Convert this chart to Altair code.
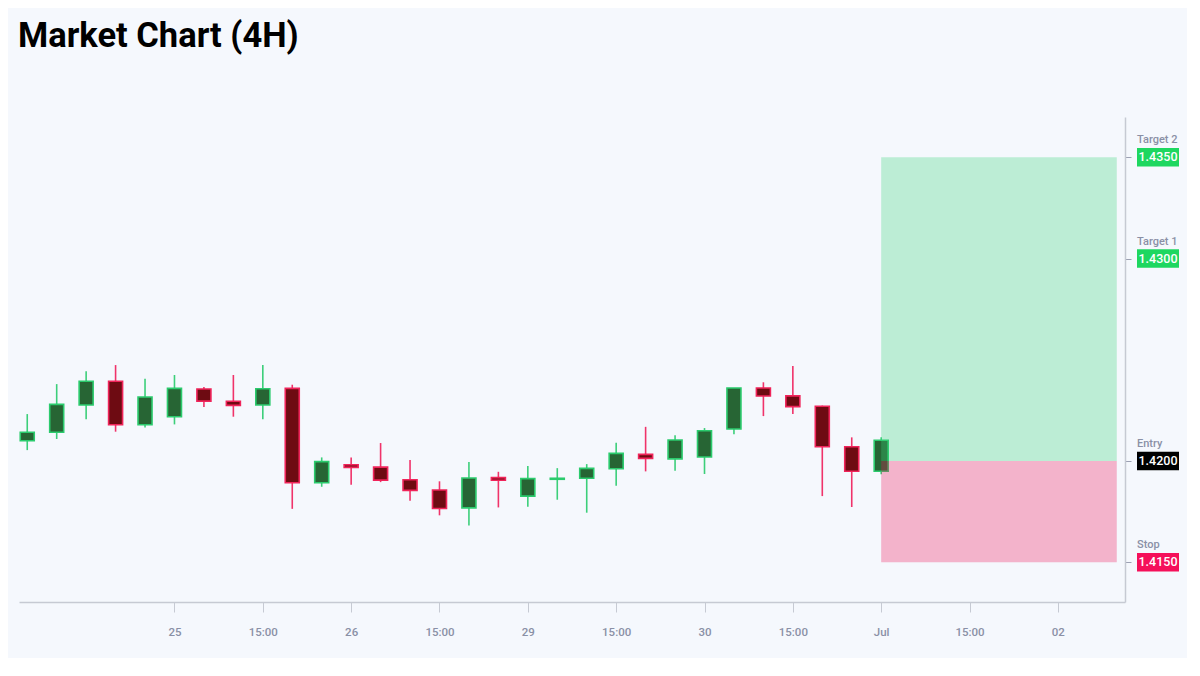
import altair as alt
import pandas as pd

# ---- data ----
opens  = [1.42100, 1.42142, 1.42277, 1.42394, 1.42179, 1.42219, 1.42356, 1.42295, 1.42277, 1.42359,
          1.41893, 1.41982, 1.41970, 1.41908, 1.41857, 1.41769, 1.41918, 1.41827, 1.41910, 1.41915,
          1.41962, 1.42033, 1.42011, 1.42020, 1.42158, 1.42361, 1.42322, 1.42271, 1.42071, 1.41950]
highs  = [1.42232, 1.42380, 1.42443, 1.42474, 1.42406, 1.42425, 1.42366, 1.42425, 1.42474, 1.42377,
          1.42018, 1.42018, 1.42089, 1.42005, 1.41900, 1.41995, 1.41947, 1.41975, 1.41965, 1.41985,
          1.42090, 1.42169, 1.42127, 1.42163, 1.42361, 1.42389, 1.42469, 1.42274, 1.42117, 1.42117]
lows   = [1.42054, 1.42109, 1.42206, 1.42145, 1.42166, 1.42181, 1.42267, 1.42219, 1.42206, 1.41764,
          1.41873, 1.41883, 1.41896, 1.41804, 1.41732, 1.41682, 1.41771, 1.41774, 1.41809, 1.41745,
          1.41878, 1.41949, 1.41952, 1.41936, 1.42132, 1.42222, 1.42232, 1.41827, 1.41773, 1.41935]
closes = [1.42142, 1.42280, 1.42394, 1.42179, 1.42316, 1.42359, 1.42296, 1.42275, 1.42357, 1.41893,
          1.41997, 1.41969, 1.41906, 1.41855, 1.41766, 1.41916, 1.41905, 1.41913, 1.41915, 1.41964,
          1.42038, 1.42013, 1.42104, 1.42150, 1.42361, 1.42321, 1.42269, 1.42071, 1.41950, 1.42103]

tick_positions = [5, 8, 11, 14, 17, 20, 23, 26, 29, 32, 35]
tick_labels = ["25", "15:00", "26", "15:00", "29", "15:00", "30", "15:00", "Jul", "15:00", "02"]

level_values = [1.4350, 1.4300, 1.4200, 1.4150]
level_names = ["Target 2", "Target 1", "Entry", "Stop"]
level_texts = ["1.4350", "1.4300", "1.4200", "1.4150"]
level_colors = ["#1ed760", "#1ed760", "#000000", "#f5105a"]

zone_start = 29
zone_end = 37
entry = 1.4200
target2 = 1.4350
stop = 1.4150

x_domain = [-0.28, 37.28]
y_domain = [1.41304, 1.43699]

# ---- tables ----
candles = pd.DataFrame({
    "i": list(range(len(opens))),
    "open": opens, "high": highs, "low": lows, "close": closes,
})
candles["dir"] = ["up" if c >= o else "down" for o, c in zip(opens, closes)]

profit_zone = pd.DataFrame({"x0": [zone_start], "x1": [zone_end], "y0": [entry], "y1": [target2]})
loss_zone = pd.DataFrame({"x0": [zone_start], "x1": [zone_end], "y0": [stop], "y1": [entry]})

half_box = 0.00046
levels = pd.DataFrame({
    "v": level_values,
    "lo": [v - half_box for v in level_values],
    "hi": [v + half_box for v in level_values],
    "name": level_names,
    "txt": level_texts,
    "col": level_colors,
})

label_arr = "[" + ",".join("'" + t + "'" for t in tick_labels) + "]"

xs = alt.Scale(domain=x_domain, nice=False, zero=False, padding=0)
ys = alt.Scale(domain=y_domain, nice=False, zero=False, padding=0)

GRAY = "#8a90a6"
AXIS = "#c6cad3"

x_axis = alt.Axis(
    values=tick_positions,
    labelExpr=label_arr + "[round((datum.value-5)/3)]",
    grid=False, domainColor=AXIS, domainWidth=1.5, tickColor=AXIS, tickSize=10,
    labelColor=GRAY, labelFont="Roboto", labelFontSize=11.5, labelFontWeight=500,
    labelPadding=14, title=None,
)
y_axis = alt.Axis(
    orient="right", values=level_values, labels=False, grid=False,
    domainColor=AXIS, domainWidth=1.5, tickColor="#9ca1b3", tickSize=6, title=None,
)

dir_scale_wick = alt.Scale(domain=["up", "down"], range=["#3ccf7a", "#f0336a"])
dir_scale_fill = alt.Scale(domain=["up", "down"], range=["#276534", "#6e0b12"])
dir_scale_stroke = alt.Scale(domain=["up", "down"], range=["#2bcb6d", "#f0245a"])

base = alt.Chart(candles)

wicks = base.mark_rule(strokeWidth=1.6).encode(
    x=alt.X("i:Q", scale=xs, axis=x_axis),
    y=alt.Y("low:Q", scale=ys, axis=y_axis),
    y2="high:Q",
    color=alt.Color("dir:N", scale=dir_scale_wick, legend=None),
)

bodies = base.mark_bar(size=14, strokeWidth=1.6).encode(
    x=alt.X("i:Q", scale=xs, axis=x_axis),
    y=alt.Y("open:Q", scale=ys, axis=y_axis),
    y2="close:Q",
    fill=alt.Fill("dir:N", scale=dir_scale_fill, legend=None),
    stroke=alt.Stroke("dir:N", scale=dir_scale_stroke, legend=None),
)

profit_layer = alt.Chart(profit_zone).mark_rect(fill="#37d37b", opacity=0.3).encode(
    x=alt.X("x0:Q", scale=xs, axis=x_axis), x2="x1:Q",
    y=alt.Y("y0:Q", scale=ys, axis=y_axis), y2="y1:Q",
)
loss_layer = alt.Chart(loss_zone).mark_rect(fill="#f0145a", opacity=0.3).encode(
    x=alt.X("x0:Q", scale=xs, axis=x_axis), x2="x1:Q",
    y=alt.Y("y0:Q", scale=ys, axis=y_axis), y2="y1:Q",
)

lv = alt.Chart(levels)
boxes = lv.mark_rect().encode(
    x=alt.value(1118), x2=alt.value(1160),
    y=alt.Y("lo:Q", scale=ys, axis=y_axis), y2="hi:Q",
    color=alt.Color("col:N", scale=None, legend=None),
)
box_text = lv.mark_text(font="Roboto", fontSize=12.5, fontWeight=500, color="white",
                        align="center", baseline="middle").encode(
    x=alt.value(1139),
    y=alt.Y("v:Q", scale=ys, axis=y_axis),
    text="txt:N",
)
name_text = lv.mark_text(font="Roboto", fontSize=11, fontWeight=500, color=GRAY,
                         align="left", baseline="alphabetic", dy=-14).encode(
    x=alt.value(1118),
    y=alt.Y("v:Q", scale=ys, axis=y_axis),
    text="name:N",
)

title = alt.Chart(pd.DataFrame({"t": ["Market Chart (4H)"]})).mark_text(
    font="Roboto", fontSize=34.5, fontWeight="bold", color="#000000",
    align="left", baseline="alphabetic",
).encode(x=alt.value(-1), y=alt.value(-70), text="t:N")

chart = alt.layer(wicks, bodies, profit_layer, loss_layer, boxes, box_text, name_text, title).resolve_scale(
    color="independent", fill="independent", stroke="independent"
).properties(
    width=1106, height=485,
    autosize=alt.AutoSizeParams(type="none"),
    padding={"left": 11, "top": 109, "right": 62, "bottom": 56},
    background="#f5f8fd",
).configure_view(stroke=None).configure_text(limit=0)

chart.save("out.html", embed_options={"renderer": "svg", "actions": False})
